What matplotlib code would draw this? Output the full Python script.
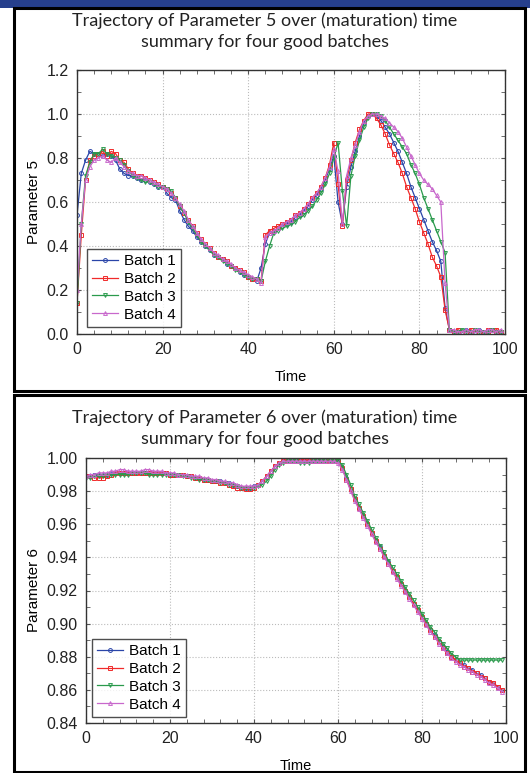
# ============================================================
# trajectory_parameters_5_6.py
# ============================================================
#
# Two stacked panels: trajectories of parameter 5 and 6
# over (maturation) time for four good batches.
#
# ============================================================

import numpy as np
import matplotlib.pyplot as plt
from matplotlib.patches import Rectangle
from matplotlib.ticker import MultipleLocator


# ============================================================
# DATA
# ============================================================

TIME = list(range(100))

BATCHES = ["Batch 1", "Batch 2", "Batch 3", "Batch 4"]

P5_BATCH1 = [
    0.54, 0.73, 0.79, 0.83, 0.82, 0.82, 0.81, 0.82, 0.81, 0.79,
    0.75, 0.73, 0.72, 0.72, 0.71, 0.70, 0.70, 0.69, 0.68, 0.67,
    0.67, 0.64, 0.62, 0.61, 0.56, 0.52, 0.49, 0.47, 0.44, 0.42,
    0.40, 0.38, 0.36, 0.35, 0.34, 0.32, 0.31, 0.30, 0.28, 0.27,
    0.26, 0.25, 0.24, 0.30, 0.41, 0.46, 0.47, 0.48, 0.49, 0.50,
    0.51, 0.53, 0.54, 0.56, 0.58, 0.61, 0.63, 0.66, 0.70, 0.75,
    0.81, 0.60, 0.50, 0.67, 0.76, 0.83, 0.90, 0.96, 0.99, 1.00,
    0.99, 0.97, 0.94, 0.91, 0.87, 0.83, 0.78, 0.73, 0.67, 0.62,
    0.57, 0.52, 0.47, 0.42, 0.38, 0.33, 0.12, 0.02, 0.01, 0.01,
    0.01, 0.02, 0.01, 0.01, 0.02, 0.01, 0.01, 0.02, 0.01, 0.01,
]

P5_BATCH2 = [
    0.14, 0.45, 0.70, 0.79, 0.81, 0.82, 0.83, 0.81, 0.83, 0.82,
    0.79, 0.78, 0.75, 0.73, 0.72, 0.72, 0.71, 0.70, 0.69, 0.68,
    0.67, 0.66, 0.64, 0.62, 0.58, 0.55, 0.52, 0.49, 0.46, 0.43,
    0.41, 0.39, 0.37, 0.35, 0.34, 0.33, 0.31, 0.30, 0.29, 0.28,
    0.26, 0.25, 0.25, 0.24, 0.45, 0.47, 0.48, 0.49, 0.50, 0.51,
    0.52, 0.54, 0.55, 0.57, 0.59, 0.62, 0.64, 0.67, 0.71, 0.77,
    0.87, 0.68, 0.49, 0.70, 0.79, 0.87, 0.93, 0.97, 1.00, 1.00,
    0.98, 0.95, 0.91, 0.86, 0.82, 0.78, 0.73, 0.67, 0.62, 0.57,
    0.51, 0.46, 0.41, 0.35, 0.31, 0.26, 0.11, 0.02, 0.01, 0.02,
    0.01, 0.01, 0.02, 0.01, 0.01, 0.01, 0.02, 0.01, 0.02, 0.01,
]

P5_BATCH3 = [
    0.14, 0.50, 0.72, 0.78, 0.82, 0.82, 0.84, 0.82, 0.81, 0.80,
    0.79, 0.77, 0.74, 0.72, 0.71, 0.70, 0.69, 0.69, 0.68, 0.67,
    0.67, 0.66, 0.65, 0.62, 0.58, 0.55, 0.51, 0.48, 0.45, 0.42,
    0.40, 0.38, 0.36, 0.35, 0.33, 0.32, 0.31, 0.29, 0.28, 0.27,
    0.26, 0.25, 0.25, 0.24, 0.33, 0.40, 0.46, 0.47, 0.48, 0.49,
    0.50, 0.51, 0.53, 0.54, 0.56, 0.58, 0.61, 0.64, 0.68, 0.73,
    0.80, 0.87, 0.65, 0.49, 0.72, 0.81, 0.88, 0.94, 0.98, 1.00,
    1.00, 0.99, 0.97, 0.94, 0.91, 0.88, 0.85, 0.82, 0.77, 0.73,
    0.68, 0.62, 0.57, 0.52, 0.47, 0.42, 0.37, 0.02, 0.01, 0.01,
    0.02, 0.01, 0.01, 0.02, 0.01, 0.01, 0.01, 0.02, 0.01, 0.01,
]

P5_BATCH4 = [
    0.20, 0.50, 0.70, 0.76, 0.79, 0.80, 0.81, 0.79, 0.78, 0.80,
    0.78, 0.76, 0.74, 0.73, 0.72, 0.72, 0.71, 0.70, 0.69, 0.68,
    0.67, 0.66, 0.64, 0.62, 0.59, 0.56, 0.52, 0.49, 0.46, 0.43,
    0.41, 0.39, 0.37, 0.36, 0.34, 0.33, 0.32, 0.30, 0.29, 0.28,
    0.27, 0.26, 0.25, 0.23, 0.44, 0.46, 0.47, 0.48, 0.50, 0.51,
    0.52, 0.54, 0.55, 0.57, 0.59, 0.62, 0.64, 0.67, 0.71, 0.76,
    0.84, 0.74, 0.50, 0.72, 0.80, 0.86, 0.92, 0.97, 0.99, 1.00,
    1.00, 0.99, 0.98, 0.96, 0.94, 0.92, 0.89, 0.85, 0.81, 0.77,
    0.73, 0.70, 0.68, 0.66, 0.63, 0.60, 0.23, 0.02, 0.02, 0.01,
    0.01, 0.02, 0.01, 0.02, 0.02, 0.01, 0.02, 0.02, 0.01, 0.02,
]

P6_BATCH1 = [
    0.989, 0.989, 0.990, 0.990, 0.990, 0.990, 0.991, 0.991, 0.991, 0.991,
    0.991, 0.991, 0.991, 0.991, 0.991, 0.991, 0.991, 0.991, 0.991, 0.991,
    0.990, 0.990, 0.990, 0.990, 0.989, 0.989, 0.988, 0.988, 0.987, 0.987,
    0.986, 0.986, 0.986, 0.985, 0.985, 0.984, 0.983, 0.982, 0.982, 0.982,
    0.983, 0.984, 0.986, 0.989, 0.992, 0.995, 0.997, 0.998, 0.998, 0.998,
    0.998, 0.998, 0.998, 0.998, 0.998, 0.998, 0.998, 0.998, 0.998, 0.998,
    0.998, 0.994, 0.988, 0.981, 0.975, 0.970, 0.965, 0.960, 0.955, 0.950,
    0.946, 0.941, 0.937, 0.932, 0.928, 0.924, 0.920, 0.916, 0.912, 0.908,
    0.904, 0.900, 0.896, 0.893, 0.889, 0.886, 0.883, 0.880, 0.878, 0.876,
    0.875, 0.873, 0.872, 0.870, 0.869, 0.867, 0.865, 0.864, 0.862, 0.860,
]

P6_BATCH2 = [
    0.989, 0.989, 0.988, 0.988, 0.988, 0.989, 0.990, 0.991, 0.991, 0.991,
    0.991, 0.991, 0.991, 0.991, 0.991, 0.991, 0.991, 0.991, 0.991, 0.991,
    0.990, 0.990, 0.990, 0.990, 0.989, 0.989, 0.988, 0.988, 0.987, 0.987,
    0.986, 0.986, 0.985, 0.985, 0.984, 0.983, 0.982, 0.982, 0.981, 0.981,
    0.982, 0.984, 0.986, 0.989, 0.992, 0.995, 0.997, 0.998, 0.998, 0.998,
    0.998, 0.998, 0.998, 0.998, 0.998, 0.998, 0.998, 0.998, 0.998, 0.998,
    0.998, 0.994, 0.987, 0.981, 0.975, 0.970, 0.965, 0.960, 0.955, 0.950,
    0.945, 0.941, 0.936, 0.932, 0.928, 0.924, 0.920, 0.916, 0.912, 0.908,
    0.904, 0.900, 0.896, 0.892, 0.889, 0.885, 0.882, 0.880, 0.878, 0.876,
    0.874, 0.873, 0.871, 0.870, 0.868, 0.867, 0.865, 0.864, 0.862, 0.860,
]

P6_BATCH3 = [
    0.988, 0.988, 0.989, 0.989, 0.989, 0.990, 0.990, 0.990, 0.990, 0.990,
    0.990, 0.991, 0.991, 0.991, 0.991, 0.990, 0.990, 0.990, 0.990, 0.990,
    0.990, 0.990, 0.990, 0.989, 0.989, 0.988, 0.988, 0.987, 0.987, 0.987,
    0.986, 0.986, 0.985, 0.985, 0.984, 0.984, 0.983, 0.982, 0.982, 0.982,
    0.982, 0.983, 0.984, 0.986, 0.989, 0.993, 0.996, 0.997, 0.998, 0.998,
    0.998, 0.997, 0.997, 0.997, 0.998, 0.998, 0.998, 0.998, 0.998, 0.998,
    0.998, 0.996, 0.990, 0.984, 0.977, 0.972, 0.967, 0.962, 0.957, 0.952,
    0.947, 0.943, 0.938, 0.934, 0.930, 0.926, 0.922, 0.918, 0.914, 0.910,
    0.906, 0.902, 0.898, 0.895, 0.891, 0.888, 0.885, 0.882, 0.880, 0.878,
    0.878, 0.878, 0.878, 0.878, 0.878, 0.878, 0.878, 0.878, 0.878, 0.878,
]

P6_BATCH4 = [
    0.989, 0.990, 0.990, 0.991, 0.991, 0.991, 0.992, 0.992, 0.993, 0.993,
    0.992, 0.992, 0.992, 0.992, 0.993, 0.993, 0.992, 0.992, 0.992, 0.991,
    0.991, 0.991, 0.990, 0.990, 0.990, 0.989, 0.989, 0.989, 0.988, 0.988,
    0.987, 0.987, 0.986, 0.986, 0.985, 0.985, 0.984, 0.983, 0.983, 0.983,
    0.983, 0.984, 0.986, 0.989, 0.992, 0.995, 0.997, 0.998, 0.998, 0.998,
    0.998, 0.998, 0.998, 0.998, 0.998, 0.998, 0.998, 0.998, 0.998, 0.998,
    0.997, 0.993, 0.987, 0.980, 0.974, 0.969, 0.964, 0.959, 0.954, 0.949,
    0.945, 0.940, 0.936, 0.931, 0.927, 0.923, 0.919, 0.915, 0.911, 0.907,
    0.903, 0.899, 0.895, 0.892, 0.888, 0.885, 0.882, 0.879, 0.877, 0.875,
    0.874, 0.872, 0.871, 0.869, 0.868, 0.866, 0.864, 0.863, 0.861, 0.859,
]

P5_SERIES = [P5_BATCH1, P5_BATCH2, P5_BATCH3, P5_BATCH4]
P6_SERIES = [P6_BATCH1, P6_BATCH2, P6_BATCH3, P6_BATCH4]


# ============================================================
# STYLE
# ============================================================

COLORS = ["#2a45a8", "#f02a2a", "#2a9a4c", "#c868cc"]
MARKERS = ["o", "s", "v", "^"]

TITLE_FONT = "Lato"
TICK_FONT = "Liberation Sans"

W, H = 530, 773


def fx(px):
    return px / W


def fy(py):
    return 1 - py / H


fig = plt.figure(figsize=(W / 100, H / 100), dpi=100)

# top banner
fig.patches.append(Rectangle((0, fy(8)), 1, 8 / H,
                             transform=fig.transFigure,
                             facecolor="#263f8c", edgecolor="none",
                             zorder=-5))

# panel frames (kept behind the axes)
for top, bottom in [(8, 391), (395, 772)]:
    fig.patches.append(Rectangle((fx(14), fy(bottom)),
                                 fx(525) - fx(14), (bottom - top) / H,
                                 transform=fig.transFigure,
                                 facecolor="none", edgecolor="black",
                                 linewidth=2.2, zorder=-5))


# ============================================================
# PANEL DRAWING
# ============================================================

def draw_panel(rect, series, ylim, ymajor, yminor, yfmt,
               ylabel, title, title_y, legend_box):

    ax = fig.add_axes(rect)

    for i, vals in enumerate(series):
        ax.plot(TIME, vals,
                color=COLORS[i],
                marker=MARKERS[i],
                markersize=2.8,
                markerfacecolor="none",
                markeredgewidth=0.7,
                linewidth=0.9,
                label=BATCHES[i])

    ax.set_xlim(0, 100)
    ax.set_ylim(*ylim)

    ax.xaxis.set_major_locator(MultipleLocator(20))
    ax.xaxis.set_minor_locator(MultipleLocator(4))
    ax.yaxis.set_major_locator(MultipleLocator(ymajor))
    ax.yaxis.set_minor_locator(MultipleLocator(yminor))
    ax.yaxis.set_major_formatter(yfmt)

    ax.tick_params(which="both", direction="in",
                   top=True, right=True, length=3,
                   color="#555555")
    ax.tick_params(which="major", labelsize=11.5, pad=6)

    for lbl in ax.get_xticklabels() + ax.get_yticklabels():
        lbl.set_fontfamily(TICK_FONT)
        lbl.set_color("#222222")

    for sp in ax.spines.values():
        sp.set_color("#333333")
        sp.set_linewidth(1.0)

    ax.grid(True, which="major", linestyle=":",
            color="#bbbbbb", linewidth=0.8)

    ax.set_xlabel("Time", fontfamily=TICK_FONT, fontsize=10.5,
                  labelpad=9)
    ax.set_ylabel(ylabel, fontfamily=TICK_FONT, fontsize=11)

    fig.text(0.5, fy(title_y), title, ha="center", va="center",
             fontfamily=TITLE_FONT, fontsize=13, color="#222222",
             linespacing=1.35)

    leg = ax.legend(loc="lower left",
                    bbox_to_anchor=legend_box,
                    prop={"family": TICK_FONT, "size": 11},
                    frameon=True, fancybox=False,
                    handlelength=1.7, handletextpad=0.35,
                    labelspacing=0.25, borderpad=0.35,
                    borderaxespad=0.0)
    leg.get_frame().set_edgecolor("#222222")
    leg.get_frame().set_linewidth(1.0)

    return ax


draw_panel([fx(77), fy(334), fx(505) - fx(77), (334 - 70) / H],
           P5_SERIES, (0, 1.2), 0.2, 0.1,
           lambda v, p: f"{v:.1f}",
           "Parameter 5",
           "Trajectory of Parameter 5 over (maturation) time\n"
           "summary for four good batches",
           31,
           (0.023, 0.027))

draw_panel([fx(86), fy(723), fx(506) - fx(86), (723 - 458) / H],
           P6_SERIES, (0.84, 1.0), 0.02, 0.01,
           lambda v, p: f"{v:.2f}",
           "Parameter 6",
           "Trajectory of Parameter 6 over (maturation) time\n"
           "summary for four good batches",
           428,
           (0.014, 0.023))

plt.savefig("out.png", dpi=100)
